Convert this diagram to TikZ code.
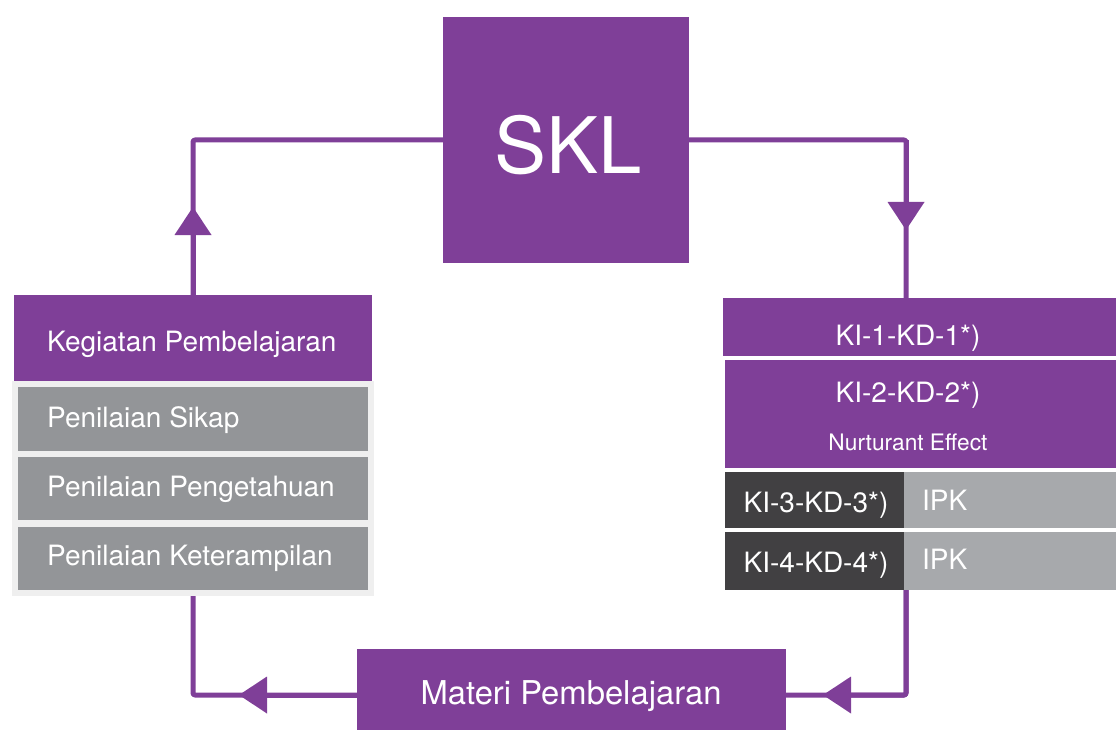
\documentclass[tikz,border=0pt]{standalone}
\usepackage{fontspec}
\setmainfont{TeX Gyre Heros}
\usetikzlibrary{arrows.meta}
\definecolor{plum}{HTML}{7F3F98}
\definecolor{stone}{HTML}{939598}
\definecolor{mist}{HTML}{EFEFEF}
\definecolor{coal}{HTML}{414042}
\definecolor{ash}{HTML}{A7A9AC}
\begin{document}
\begin{tikzpicture}[x=1pt,y=-1pt,
  box/.style={rectangle, draw=none, inner sep=0pt, outer sep=0pt, anchor=north west},
  lbl/.style={text=white, inner sep=0pt, font=\fontsize{28}{33}\selectfont},
  link/.style={draw=plum, line width=5pt, line join=round, rounded corners=2pt},
  tip/.style={-{Triangle[length=28pt,width=37pt,line width=0pt]}}]
\useasboundingbox (0,0) rectangle (1116,730);
\begin{scope}
\clip (0,0) rectangle (1116,730);

% central standard box
\node[box, fill=plum, minimum width=246, minimum height=246] (skl) at (443,17) {};

% learning activities with assessments
\node[box, fill=mist, minimum width=362, minimum height=215] (panel) at (12,381) {};
\node[box, fill=plum, minimum width=358, minimum height=86] (keg) at (14,295) {};
\node[box, fill=stone, minimum width=350, minimum height=64] (sikap) at (18,387) {};
\node[box, fill=stone, minimum width=350, minimum height=63] (peng) at (18,457) {};
\node[box, fill=stone, minimum width=350, minimum height=63] (ket) at (18,527) {};

% competency stack
\node[box, fill=plum, minimum width=393, minimum height=58] (ki1) at (723,298) {};
\node[box, fill=plum, minimum width=391, minimum height=108] (ki2) at (725,360) {};
\node[box, fill=coal, minimum width=179, minimum height=56] (ki3) at (725,472) {};
\node[box, fill=ash, minimum width=212, minimum height=56] (ipk3) at (904,472) {};
\node[box, fill=coal, minimum width=179, minimum height=58] (ki4) at (725,532) {};
\node[box, fill=ash, minimum width=212, minimum height=58] (ipk4) at (904,532) {};

% learning material
\node[box, fill=plum, minimum width=429, minimum height=92] (materi) at (357,649) {};

% texts
\node[lbl, anchor=base, font=\fontsize{78}{90}\selectfont] (tskl) at (568,174) {SKL};
\node[lbl, anchor=base west] (tkeg) at (47,351) {Kegiatan Pembelajaran};
\node[lbl, anchor=base west] (tsik) at (47,427) {Penilaian Sikap};
\node[lbl, anchor=base west] (tpen) at (47,496) {Penilaian Pengetahuan};
\node[lbl, anchor=base west] (tket) at (47,565) {Penilaian Keterampilan};
\node[lbl, anchor=base] (tki1) at (908,345) {KI-1-KD-1*)};
\node[lbl, anchor=base] (tki2) at (908,402) {KI-2-KD-2*)};
\node[lbl, anchor=base, font=\fontsize{22.7}{27}\selectfont] (tnur) at (908,450) {Nurturant Effect};
\node[lbl, anchor=base] (tki3) at (816,512) {KI-3-KD-3*)};
\node[lbl, anchor=base west] (tipk3) at (922,510) {IPK};
\node[lbl, anchor=base] (tki4) at (816,572) {KI-4-KD-4*)};
\node[lbl, anchor=base west] (tipk4) at (922,569) {IPK};
\node[lbl, anchor=base, font=\fontsize{32.8}{38}\selectfont] (tmat) at (571,704) {Materi Pembelajaran};

% connectors
\coordinate (rc) at (906,0);
\coordinate (tipA) at (193,207);
\coordinate (tipB) at (906,230);
\coordinate (tipC) at (239,695);
\coordinate (tipD) at (823,695);

\draw[link] (keg.north) |- (skl.west);
\draw[link, tip] (keg.north) -- (tipA);

\draw[link] (skl.east) -| (ki1.north -| rc);
\draw[link, tip] (skl.east -| rc) -- (tipB);

\draw[link] (panel.south) |- (materi.west);
\draw[link, tip] (materi.west) -- (tipC);

\draw[link] (ki4.south -| rc) |- (materi.east);
\draw[link, tip] (ki4.south -| rc) |- (tipD);
\end{scope}
\end{tikzpicture}
\end{document}
